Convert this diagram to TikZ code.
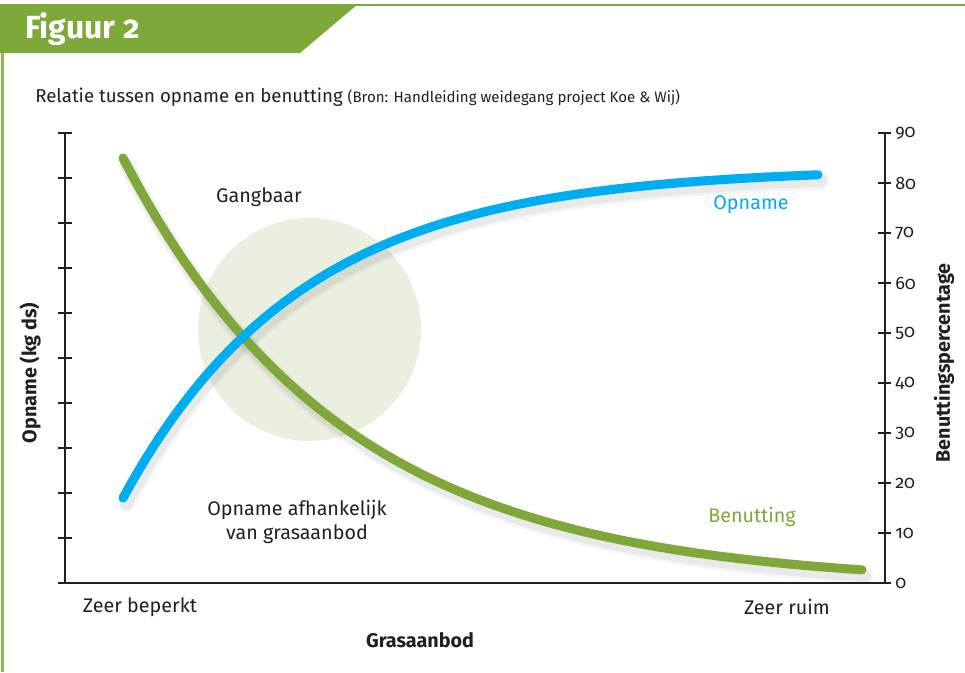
\documentclass[tikz,border=0pt]{standalone}
\usepackage{fontspec}
\setmainfont{Fira Sans}[Numbers=OldStyle]
\definecolor{bannergreen}{HTML}{7DA83A}
\definecolor{framegreen}{HTML}{8DB84E}
\definecolor{linegreen}{HTML}{7EA839}
\definecolor{lineblue}{HTML}{00AEEF}
\definecolor{circlefill}{HTML}{EBEFE0}
\definecolor{ink}{HTML}{231F20}
\tikzset{
  axisline/.style={draw=ink, line width=1.6pt},
  curve/.style={line width=6.8pt, line cap=round},
  shade1/.style={line width=13pt, line cap=round, draw=black, opacity=0.035},
  shade2/.style={line width=9pt, line cap=round, draw=black, opacity=0.05},
  lbl/.style={text=ink, font=\fontsize{14.8}{18}\selectfont, inner sep=0pt},
  axtitle/.style={text=ink, font=\bfseries\fontsize{14.8}{18}\selectfont, inner sep=0pt},
  ticklbl/.style={text=ink, font=\fontsize{13.5}{16}\selectfont, inner sep=0pt, anchor=west}
}
\begin{document}
\begin{tikzpicture}[x=0.75pt,y=-0.75pt]
\useasboundingbox (0,0) rectangle (965,672);
\fill[white] (0,0) rectangle (965,672);
% frame
\draw[framegreen, line width=1.5pt] (2.5,5) -- (2.5,672);
\draw[bannergreen, line width=1.5pt] (300,5) -- (965,5);
\fill[bannergreen] (0,4) -- (358,4) -- (300,53) -- (0,53) -- cycle;
\node[anchor=west, text=white, inner sep=0pt, font=\bfseries\fontsize{24}{28}\selectfont] (fig) at (25,29) {Figuur 2};
% title
\node[anchor=base west, text=ink, inner sep=0pt, font=\fontsize{14}{17}\selectfont] (title) at (35,102) {Relatie tussen opname en benutting {\fontsize{11.3}{13}\selectfont (Bron: Handleiding weidegang project Koe \& Wij)}};
% circle
\fill[circlefill] (309.5,329.5) circle[radius=111.5];
\node[lbl] (gang) at (259,197) {Gangbaar};
% axes
\draw[axisline] (65,133) -- (65,583) -- (885,583) -- (885,133);
\foreach \i in {0,...,10} {
  \draw[axisline] (58,{133+45*\i}) -- (72,{133+45*\i});
}
\foreach \v in {0,...,9} {
  \draw[axisline] (878,{583-50*\v}) -- (891,{583-50*\v});
}
\node[ticklbl] (t0) at (895,583) {0};
\foreach \v in {1,...,9} {
  \node[ticklbl] (t\v) at (895,{583-50*\v}) {\v0};
}
% curve shadows
\begin{scope}[shift={(3,6)}]
  \draw[shade1] plot[domain=123:862, samples=90, smooth] (\x,{585-427*exp(-0.00452*(\x-123))});
  \draw[shade2] plot[domain=123:862, samples=90, smooth] (\x,{585-427*exp(-0.00452*(\x-123))});
  \draw[shade1] plot[domain=123:818, samples=90, smooth] (\x,{168+330*exp(-0.00558*(\x-123))});
  \draw[shade2] plot[domain=123:818, samples=90, smooth] (\x,{168+330*exp(-0.00558*(\x-123))});
\end{scope}
% curves
\draw[curve, linegreen] plot[domain=123:862, samples=90, smooth] (\x,{585-427*exp(-0.00452*(\x-123))});
\draw[curve, lineblue] plot[domain=123:818, samples=90, smooth] (\x,{168+330*exp(-0.00558*(\x-123))});
% labels
\node[lbl, text=lineblue] (lopname) at (751,205) {Opname};
\node[lbl, text=linegreen] (lbenut) at (752,517) {Benutting};
\node[lbl, align=center, font=\fontsize{14.8}{18.5}\selectfont] (afh) at (297,522) {Opname afhankelijk\\van grasaanbod};
\node[lbl] (zb) at (140,607) {Zeer beperkt};
\node[lbl] (zr) at (787,607) {Zeer ruim};
\node[axtitle] (gras) at (420,640) {Grasaanbod};
\node[axtitle, rotate=90] (yl) at (30,373) {Opname (kg ds)};
\node[axtitle, rotate=90] (yr) at (944,363) {Benuttingspercentage};
\end{tikzpicture}
\end{document}
